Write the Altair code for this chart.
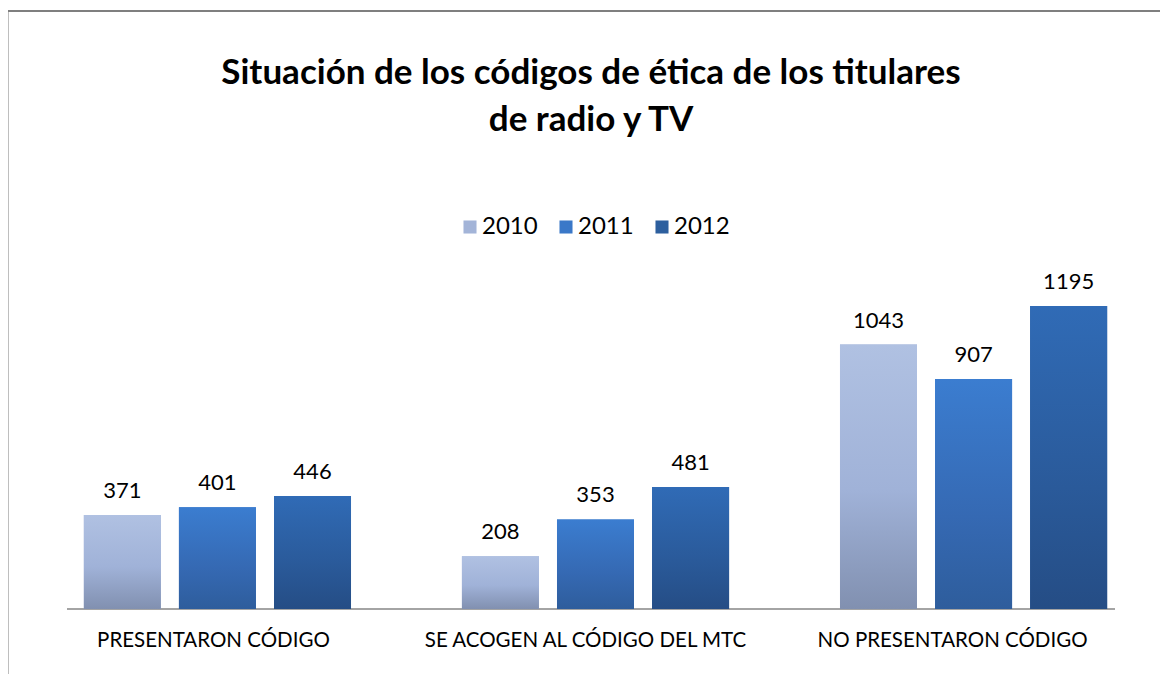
import altair as alt
import pandas as pd

categories = ["PRESENTARON CÓDIGO", "SE ACOGEN AL CÓDIGO DEL MTC", "NO PRESENTARON CÓDIGO"]
years = ["2010", "2011", "2012"]
values_2010 = [371, 208, 1043]
values_2011 = [401, 353, 907]
values_2012 = [446, 481, 1195]

rows = []
for y, vals in zip(years, [values_2010, values_2011, values_2012]):
    for c, v in zip(categories, vals):
        rows.append({"cat": c, "year": y, "value": v})
df = pd.DataFrame(rows)

solid = ["#a3b4d8", "#3a78c8", "#2d5f9e"]
grads = {
    "2010": [("#b0c1e2", 0), ("#a0b2d8", 0.55), ("#8190b0", 1)],
    "2011": [("#3b7dd0", 0), ("#3569b3", 0.6), ("#2e5d9c", 1)],
    "2012": [("#306bb6", 0), ("#2a5a9a", 0.6), ("#254d85", 1)],
}

FONT = "Lato"

label_shift = {
    "condition": [
        {"test": f"datum.value == '{categories[1]}'", "value": -10},
        {"test": f"datum.value == '{categories[2]}'", "value": -21},
    ],
    "value": -4,
}

x_enc = alt.X("cat:N", sort=categories, title=None,
              scale=alt.Scale(paddingInner=0.228, paddingOuter=0.0, range=[4.5, 1052.5]),
              axis=alt.Axis(labelAngle=0, labelFontSize=20.5, labelFont=FONT, labelColor="#000000",
                            labelLimit=500, ticks=False, labelPadding=21, domain=False,
                            labelOffset=label_shift))
xoff = alt.XOffset("year:N", sort=years, scale=alt.Scale(paddingInner=0.19, paddingOuter=0.13))
y_enc = alt.Y("value:Q", scale=alt.Scale(domain=[0, 1400]), axis=None)

base = alt.Chart(df)

baseline = alt.Chart(pd.DataFrame({"zero": [0]})).mark_rule(color="#868686", strokeWidth=1.5).encode(
    y=alt.Y("zero:Q", scale=alt.Scale(domain=[0, 1400]), axis=None),
    x=alt.value(0), x2=alt.value(1048))

legend_layer = base.mark_bar().encode(
    x=x_enc, xOffset=xoff, y=y_enc,
    color=alt.Color("year:N", sort=years, title=None,
                    scale=alt.Scale(domain=years, range=solid),
                    legend=alt.Legend(orient="none", direction="horizontal", legendX=391, legendY=-39,
                                      symbolType="square", symbolSize=170, symbolStrokeWidth=0,
                                      labelFontSize=24, labelFont=FONT, labelColor="#000000",
                                      labelOffset=0, columnPadding=16)),
)

layers = [legend_layer]
for y in years:
    g = alt.Gradient(gradient="linear", x1=0, y1=0, x2=0, y2=1,
                     stops=[alt.GradientStop(color=c, offset=o) for c, o in grads[y]])
    layers.append(
        base.transform_filter(alt.datum.year == y).mark_bar(color=g).encode(
            x=x_enc, xOffset=xoff, y=y_enc)
    )

labels = base.mark_text(baseline="bottom", dy=-12, fontSize=22, font=FONT, color="#000000").encode(
    x=x_enc, xOffset=xoff, y=y_enc, text="value:Q")
layers.append(labels)

border = alt.Chart(pd.DataFrame({"k": [0]})).mark_rect(fill=None, stroke="#7f7f7f", strokeWidth=2).encode(
    x=alt.value(-59.5), x2=alt.value(1120), y=alt.value(-243), y2=alt.value(440))

chart = alt.layer(border, baseline, *layers).properties(
    width=1048, height=355,
    title=alt.TitleParams(text=["Situación de los códigos de ética de los titulares", "de radio y TV"],
                          fontSize=35, font=FONT, fontWeight="bold", color="#000000",
                          anchor="middle", lineHeight=47, offset=-128),
    autosize=alt.AutoSizeParams(type="none"),
    padding={"left": 59, "top": 246, "right": 45, "bottom": 65},
).configure_view(stroke=None)

chart.save("out.html", embed_options={"renderer": "svg", "actions": False})
